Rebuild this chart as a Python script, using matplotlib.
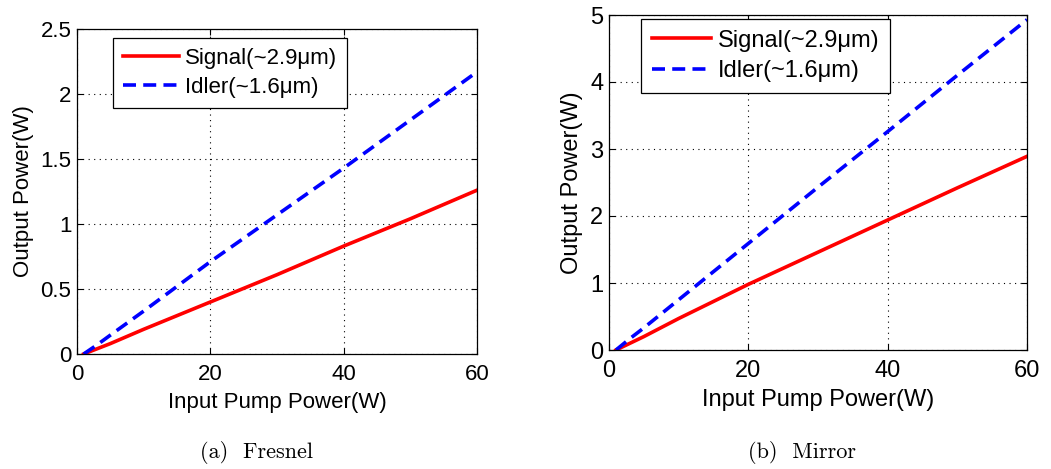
import matplotlib
matplotlib.use("Agg")
import matplotlib.pyplot as plt

pump = [1, 3, 5, 10, 20, 30, 40, 50, 60]
fresnel_signal = [0, 0.04, 0.08, 0.19, 0.40, 0.61, 0.83, 1.04, 1.26]
fresnel_idler = [0, 0.07, 0.145, 0.33, 0.71, 1.07, 1.43, 1.80, 2.17]
mirror_signal = [0, 0.1, 0.2, 0.47, 0.98, 1.46, 1.94, 2.42, 2.89]
mirror_idler = [0, 0.17, 0.33, 0.75, 1.59, 2.43, 3.26, 4.10, 4.93]

xticks = [0, 20, 40, 60]
fresnel_yticks = [0, 0.5, 1, 1.5, 2, 2.5]
mirror_yticks = [0, 1, 2, 3, 4, 5]
fresnel_yticklabels = ["0", "0.5", "1", "1.5", "2", "2.5"]
mirror_yticklabels = ["0", "1", "2", "3", "4", "5"]

labels = ["Signal(~2.9\u03bcm)", "Idler(~1.6\u03bcm)"]
captions = ["(a)  Fresnel", "(b)  Mirror"]

plt.rcParams['font.family'] = ['Liberation Sans', 'DejaVu Sans']

fig = plt.figure(figsize=(10.51, 4.69), dpi=100)

panels = [
    dict(rect=[77/1051, 115/469, 400/1051, 325/469], sig=fresnel_signal, idl=fresnel_idler,
         yt=fresnel_yticks, ytl=fresnel_yticklabels, ylim=(0, 2.5), leg=(0.09, 0.972),
         cap=captions[0], capx=257/1051, fs=16),
    dict(rect=[609/1051, 119/469, 418/1051, 335/469], sig=mirror_signal, idl=mirror_idler,
         yt=mirror_yticks, ytl=mirror_yticklabels, ylim=(0, 5), leg=(0.0766, 0.988),
         cap=captions[1], capx=802/1051, fs=17),
]

for p in panels:
    FS = p['fs']
    ax = fig.add_axes(p['rect'])
    ax.plot(pump, p['sig'], color='#ff0000', lw=2.6, label=labels[0])
    ax.plot(pump, p['idl'], color='#0000ff', lw=2.6, dashes=(3.6, 2.0), label=labels[1])
    ax.set_xlim(0, 60)
    ax.set_ylim(*p['ylim'])
    ax.set_xticks(xticks)
    ax.set_yticks(p['yt'])
    ax.set_yticklabels(p['ytl'])
    ax.tick_params(direction='in', top=True, right=True, labelsize=FS, length=4, width=0.8)
    ax.tick_params(axis='x', pad=7)
    ax.tick_params(axis='y', pad=4)
    ax.grid(True, color='black', linestyle=(0, (1, 4)), linewidth=0.8)
    for s in ax.spines.values():
        s.set_linewidth(0.9)
    ax.set_xlabel("Input Pump Power(W)", fontsize=FS, labelpad=5)
    ax.set_ylabel("Output Power(W)", fontsize=FS, labelpad=5)
    leg = ax.legend(loc='upper left', bbox_to_anchor=p['leg'], fontsize=FS, frameon=True,
                    fancybox=False, edgecolor='black', framealpha=1, handlelength=2.5,
                    borderpad=0.45, labelspacing=0.35, handletextpad=0.3, borderaxespad=0)
    leg.get_frame().set_linewidth(0.9)
    fig.text(p['capx'], 1 - 452/469, p['cap'], family='cmr10', fontsize=16,
             ha='center', va='center')

fig.savefig("out.png", dpi=100)
